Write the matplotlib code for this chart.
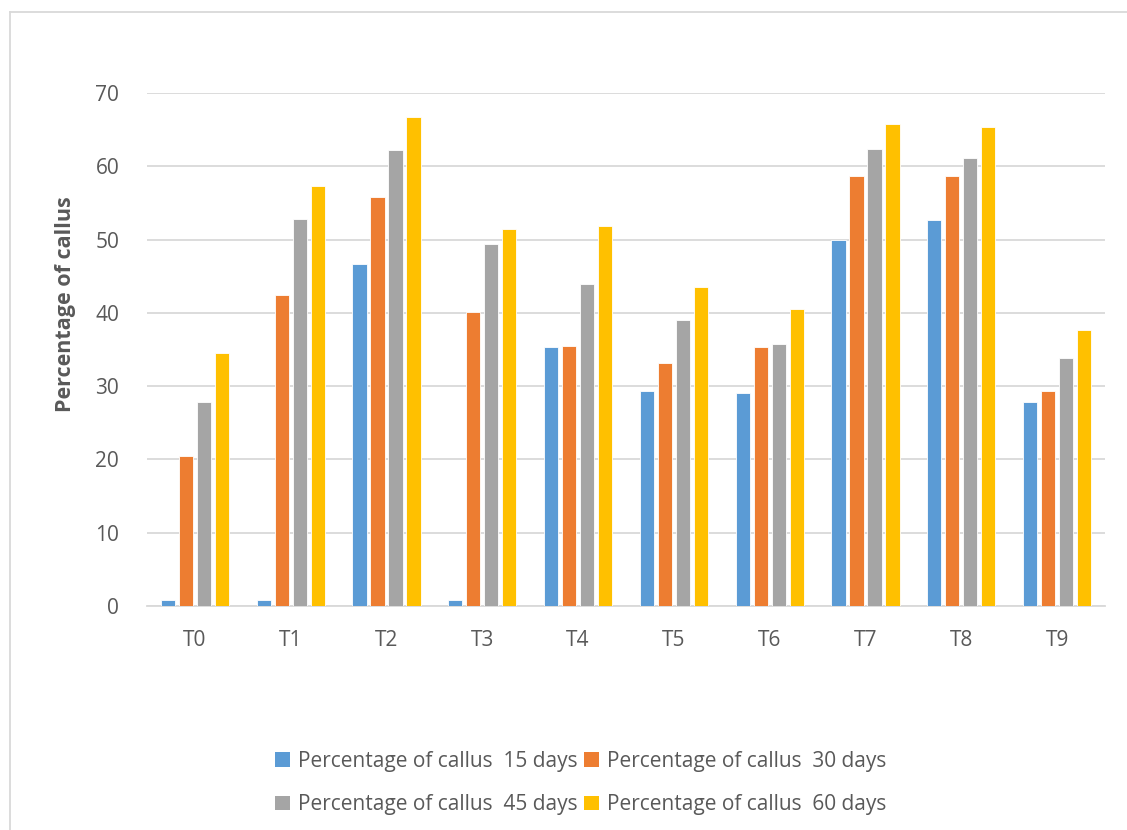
import matplotlib.pyplot as plt
import numpy as np
from matplotlib.patches import Patch
from matplotlib.lines import Line2D

plt.rcParams['font.family'] = ['Open Sans', 'DejaVu Sans']

treatments = ['T0', 'T1', 'T2', 'T3', 'T4', 'T5', 'T6', 'T7', 'T8', 'T9']
days_15 = [0.85, 0.85, 46.6, 0.85, 35.3, 29.4, 29.05, 50.0, 52.7, 27.9]
days_30 = [20.4, 42.5, 55.85, 40.15, 35.5, 33.2, 35.3, 58.7, 58.7, 29.4]
days_45 = [27.9, 52.8, 62.2, 49.4, 43.9, 39.0, 35.7, 62.4, 61.1, 33.9]
days_60 = [34.5, 57.3, 66.7, 51.4, 51.9, 43.5, 40.5, 65.8, 65.3, 37.6]
labels = ['Percentage of callus  15 days', 'Percentage of callus  30 days',
          'Percentage of callus  45 days', 'Percentage of callus  60 days']
colors = ['#5B9BD5', '#ED7D31', '#A5A5A5', '#FFC000']
text_col = '#595959'

fig = plt.figure(figsize=(11.27, 8.30), dpi=100)
ax = fig.add_axes([147 / 1127, 1 - 606 / 830, 958 / 1127, 513 / 830])

x = np.arange(len(treatments))
step = 0.188
width = 0.148
series = [days_15, days_30, days_45, days_60]
for i, vals in enumerate(series):
    ax.bar(x + (i - 1.5) * step, vals, width, color=colors[i],
           edgecolor='white', linewidth=0.6, zorder=3)

ax.set_xlim(-0.5, len(treatments) - 0.5)
ax.set_ylim(0, 70)
ax.set_yticks(range(0, 71, 10))
ax.set_xticks(x)
ax.set_xticklabels(treatments)
ax.grid(axis='y', color='#D9D9D9', linewidth=1.3, zorder=0)
for s in ['top', 'right', 'left']:
    ax.spines[s].set_visible(False)
ax.spines['bottom'].set_color('#D9D9D9')
ax.spines['bottom'].set_linewidth(1.3)
ax.tick_params(length=0, labelsize=15, labelcolor=text_col)
ax.tick_params(axis='y', pad=20)
ax.tick_params(axis='x', pad=17)

fig.text(65 / 1127, 1 - 304 / 830, 'Percentage of callus', rotation=90,
         ha='center', va='center', fontsize=15.5, fontweight='bold', color=text_col)

# outer chart frame (only the top and left edges fall inside the image)
fig.add_artist(Line2D([10 / 1127, 1], [1 - 12 / 830, 1 - 12 / 830],
                      color='#D9D9D9', linewidth=1.3))
fig.add_artist(Line2D([10 / 1127, 10 / 1127], [0, 1 - 12 / 830],
                      color='#D9D9D9', linewidth=1.3))

# legend fills column by column, so reorder to read 15/30 on top, 45/60 below
order = [0, 2, 1, 3]
handles = [Patch(facecolor=colors[k]) for k in order]
fig.legend(handles, [labels[k] for k in order], ncol=2, loc='center',
           bbox_to_anchor=(581 / 1127, 1 - 783 / 830), frameon=False,
           fontsize=15, labelcolor=text_col, handlelength=0.7, handleheight=0.7,
           handletextpad=0.4, columnspacing=0.3, labelspacing=1.1)

fig.savefig('out.png', dpi=100)
